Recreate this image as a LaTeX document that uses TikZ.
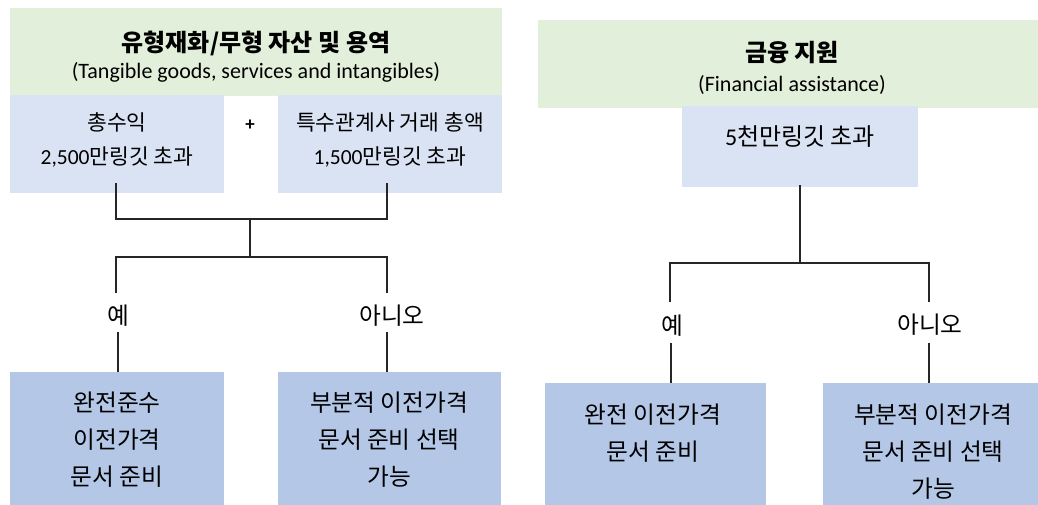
\documentclass[tikz,border=0pt]{standalone}
\usepackage{fontspec}
\setmainfont{Carlito}
\newfontfamily\kr{Noto Sans CJK KR}
\definecolor{hdrgreen}{HTML}{E2EFDA}
\definecolor{lblue}{HTML}{DAE3F3}
\definecolor{dblue}{HTML}{B4C7E7}
\definecolor{lnc}{HTML}{262626}
\tikzset{
  area/.style={inner sep=0pt, outer sep=0pt, draw=none},
  hdr/.style={area, fill=hdrgreen},
  lbox/.style={area, fill=lblue},
  dbox/.style={area, fill=dblue},
  conn/.style={draw=lnc, line width=1.3pt},
  ttl/.style={inner sep=0pt, font=\kr\bfseries\fontsize{24}{28}\selectfont},
  sub/.style={inner sep=0pt, font=\fontsize{22}{26}\selectfont},
  small/.style={inner sep=0pt, align=center, font=\kr\fontsize{21.5}{34}\selectfont},
  big/.style={inner sep=0pt, align=center, font=\kr\fontsize{23.7}{37}\selectfont},
}
\begin{document}
\begin{tikzpicture}[x=1pt,y=-1pt]
\useasboundingbox[fill=white] (0,0) rectangle (1038,505);
% ---------- left panel ----------
\node[hdr, minimum width=492pt, minimum height=88pt] (hL) at (256,52) {};
\node[lbox, minimum width=214pt, minimum height=98pt] (b1) at (117,144) {};
\node[lbox, minimum width=224pt, minimum height=98pt] (b2) at (390,144) {};
\node[dbox, minimum width=214pt, minimum height=133pt] (d1) at (117,438.5) {};
\node[dbox, minimum width=223pt, minimum height=133pt] (d2) at (389.5,438.5) {};
\node[ttl] (tL) at (256,43) {유형재화/무형 자산 및 용역};
\node[sub] (sL) at (256,72) {(Tangible goods, services and intangibles)};
\node[small] (t1) at (117,140) {총수익\\{\fontspec{Carlito}2,500}만링깃 초과};
\node[small] (t2) at (390,140) {특수관계사 거래 총액\\{\fontspec{Carlito}1,500}만링깃 초과};
\node[inner sep=0pt, font=\bfseries\fontsize{19}{22}\selectfont] (plus) at (250,125) {+};
\node[big] (t3) at (117,440) {완전준수\\이전가격\\문서 준비};
\node[big] (t4) at (389,440) {부분적 이전가격\\문서 준비 선택\\가능};
\node[big] (yL) at (118,316) {예};
\node[big] (nL) at (392,316) {아니오};
\coordinate (c1) at (116,183);
\coordinate (c2) at (387,183);
\coordinate (m1) at (250,219);
\coordinate (m2) at (250,257);
\coordinate (yLt) at (116,293);
\coordinate (nLt) at (387,293);
\coordinate (yLb) at (118,332);
\coordinate (nLb) at (387,332);
\draw[conn] (c1) |- (m1) -| (c2);
\draw[conn] (m1) -- (m2);
\draw[conn] (yLt) |- (m2) -| (nLt);
\draw[conn] (yLb) -- (yLb |- d1.north);
\draw[conn] (nLb) -- (nLb |- d2.north);
% ---------- right panel ----------
\node[hdr, minimum width=500pt, minimum height=88pt] (hR) at (788,64) {};
\node[lbox, minimum width=236pt, minimum height=81pt] (b3) at (800,146.5) {};
\node[dbox, minimum width=221pt, minimum height=122pt] (d3) at (655.5,444) {};
\node[dbox, minimum width=215pt, minimum height=122pt] (d4) at (930.5,444) {};
\node[ttl] (tR) at (792,53) {금융 지원};
\node[sub] (sR) at (792,85) {(Financial assistance)};
\node[small, font=\kr\fontsize{24}{30}\selectfont] (t5) at (800,137) {{\fontspec{Carlito}5}천만링깃 초과};
\node[big] (t6) at (653,433.5) {완전 이전가격\\문서 준비};
\node[big] (t7) at (933,452) {부분적 이전가격\\문서 준비 선택\\가능};
\node[big] (yR) at (672,326) {예};
\node[big] (nR) at (930,325) {아니오};
\coordinate (c3) at (800,185);
\coordinate (m3) at (800,263);
\coordinate (yRt) at (670,302);
\coordinate (nRt) at (929,302);
\coordinate (yRb) at (671,343);
\coordinate (nRb) at (929,343);
\draw[conn] (c3) -- (m3);
\draw[conn] (yRt) |- (m3) -| (nRt);
\draw[conn] (yRb) -- (yRb |- d3.north);
\draw[conn] (nRb) -- (nRb |- d4.north);
\end{tikzpicture}
\end{document}
